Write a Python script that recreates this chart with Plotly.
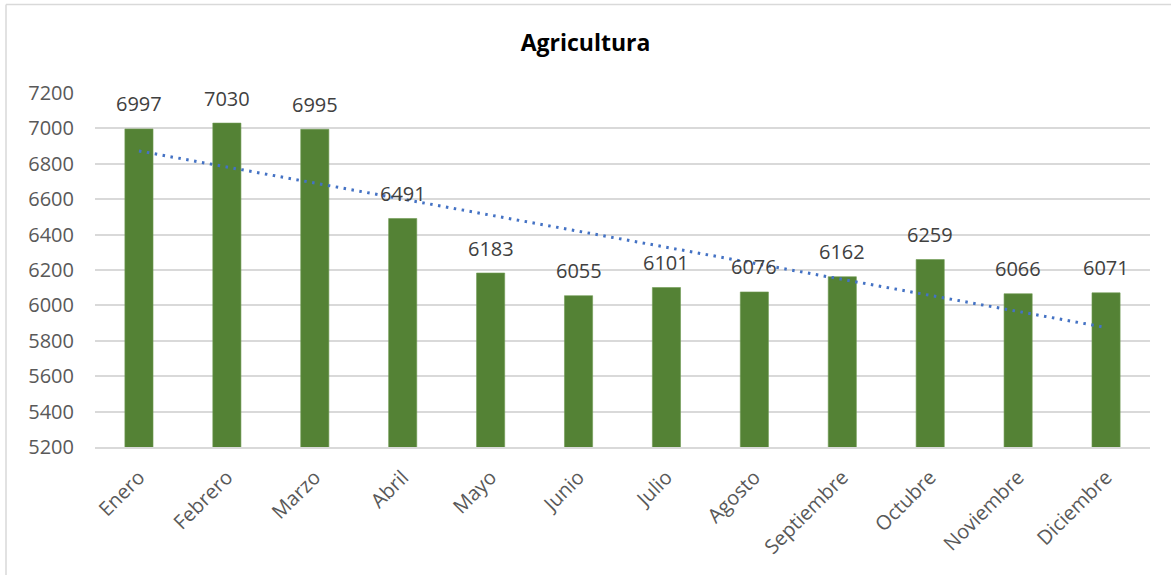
import numpy as np
import plotly.graph_objects as go

months = ["Enero", "Febrero", "Marzo", "Abril", "Mayo", "Junio", "Julio",
          "Agosto", "Septiembre", "Octubre", "Noviembre", "Diciembre"]
values = [6997, 7030, 6995, 6491, 6183, 6055, 6101, 6076, 6162, 6259, 6066, 6071]
y_ticks = [5200, 5400, 5600, 5800, 6000, 6200, 6400, 6600, 6800, 7000, 7200]
title_text = "Agricultura"

W, H = 1171, 575
ML, MR, MT, MB = 95, 21, 93, 128

# Linear trendline (least squares fit, as in the spreadsheet trendline)
idx = np.arange(1, len(values) + 1)
slope, intercept = np.polyfit(idx, values, 1)
trend = slope * idx + intercept

FONT = "Open Sans"
GRAY = "#595959"

fig = go.Figure()
fig.add_trace(go.Bar(
    x=months, y=values,
    marker=dict(color="#548235", line=dict(color="#6f9a52", width=0.6)),
    hoverinfo="x+y",
))
fig.add_trace(go.Scatter(
    x=months, y=trend, mode="lines",
    line=dict(color="#4472C4", width=3, dash="2.5px,5.5px"),
    hoverinfo="skip",
))

for m, v in zip(months, values):
    fig.add_annotation(x=m, y=v, text=str(v), showarrow=False,
                       yanchor="middle", yshift=25,
                       font=dict(family=FONT, size=20, color="#404040"))

# chart border (left and top), in paper coordinates
pw = W - ML - MR
ph = H - MT - MB
x_left = (6 - ML) / pw
y_top = (H - MB - 4.5) / ph
fig.add_shape(type="line", xref="paper", yref="paper",
              x0=x_left, x1=(W + 5 - ML) / pw, y0=y_top, y1=y_top,
              line=dict(color="#d9d9d9", width=1.5))
fig.add_shape(type="line", xref="paper", yref="paper",
              x0=x_left, x1=x_left, y0=y_top, y1=(H - MB - H - 5) / ph,
              line=dict(color="#d9d9d9", width=1.5))

fig.update_layout(
    width=W, height=H,
    margin=dict(l=ML, r=MR, t=MT, b=MB),
    paper_bgcolor="white", plot_bgcolor="white",
    showlegend=False,
    bargap=0.68,
    title=dict(text="<b>" + title_text + "</b>", x=0.5, xref="container",
               y=1 - 43 / H, yref="container", yanchor="middle", xanchor="center",
               font=dict(family=FONT, size=23, color="#000000")),
    font=dict(family=FONT, color=GRAY),
    xaxis=dict(
        tickangle=-45, tickfont=dict(family=FONT, size=20, color=GRAY),
        showgrid=False, showline=True, linecolor="#d9d9d9", linewidth=1.5,
        ticks="", ticklabelstandoff=9,
    ),
    yaxis=dict(
        range=[5200, 7200], tickvals=y_ticks,
        tickfont=dict(family=FONT, size=20, color=GRAY),
        showgrid=True, gridcolor="#d9d9d9", gridwidth=1.5,
        zeroline=False, showline=False, ticks="",
        ticklabelstandoff=20,
    ),
)

fig.write_html("out.html", config={"displayModeBar": False},
               post_script="document.body.style.margin='0';document.body.style.overflow='hidden';")
